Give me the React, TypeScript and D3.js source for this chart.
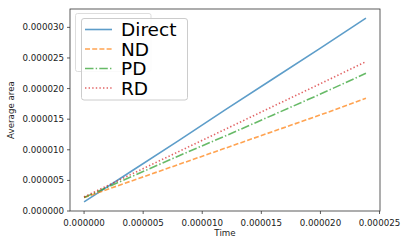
import React, { useRef, useEffect } from "react";
import * as d3 from "d3";

// time samples (s)
const times = [0, 4e-6, 8e-6, 12e-6, 16e-6, 20e-6, 23.85e-6];
// average area per method
const direct = [1.5e-6, 6.5e-6, 11.5e-6, 16.6e-6, 21.6e-6, 26.6e-6, 31.5e-6];
const nd = [2.2e-6, 4.9e-6, 7.6e-6, 10.3e-6, 13.0e-6, 15.7e-6, 18.4e-6];
const pd = [2.2e-6, 5.6e-6, 9.0e-6, 12.3e-6, 15.7e-6, 19.1e-6, 22.5e-6];
const rd = [2.3e-6, 6.0e-6, 9.7e-6, 13.4e-6, 17.1e-6, 20.8e-6, 24.4e-6];

const xTicks = [0, 5e-6, 10e-6, 15e-6, 20e-6, 25e-6];
const yTicks = [0, 5e-6, 10e-6, 15e-6, 20e-6, 25e-6, 30e-6];

const series = [
  { name: "Direct", values: direct, color: "#1f77b4", dash: null },
  { name: "ND", values: nd, color: "#ff7f0e", dash: "5,2.2" },
  { name: "PD", values: pd, color: "#2ca02c", dash: "8.5,2.2,1.4,2.2" },
  { name: "RD", values: rd, color: "#d62728", dash: "1.4,2.2" },
];

const App = () => {
  const svgRef = useRef<SVGSVGElement>(null);

  useEffect(() => {
    const width = 407;
    const height = 246;
    const left = 70, right = 380, top = 9, bottom = 211;
    const font = "DejaVu Sans, sans-serif";

    const svg = d3.select(svgRef.current);
    svg.selectAll("*").remove();
    svg.attr("width", width).attr("height", height);

    const x = d3.scaleLinear().domain([-1.19e-6, 25.04e-6]).range([left, right]);
    const y = d3.scaleLinear().domain([0, 33e-6]).range([bottom, top]);
    const fmt = d3.format(".6f");

    svg.append("rect").attr("width", width).attr("height", height).attr("fill", "#fff");

    // lines
    const line = d3
      .line<number>()
      .x((d, i) => x(times[i]))
      .y((d) => y(d));

    series.forEach((s) => {
      svg
        .append("path")
        .attr("d", line(s.values))
        .attr("fill", "none")
        .attr("stroke", s.color)
        .attr("stroke-opacity", 0.72)
        .attr("stroke-width", 1.6)
        .attr("stroke-dasharray", s.dash);
    });

    // spines
    svg
      .append("rect")
      .attr("x", left)
      .attr("y", top)
      .attr("width", right - left)
      .attr("height", bottom - top)
      .attr("fill", "none")
      .attr("stroke", "#333")
      .attr("stroke-width", 0.8);

    // x axis ticks
    const xg = svg.append("g");
    xTicks.forEach((t) => {
      xg.append("line")
        .attr("x1", x(t)).attr("x2", x(t))
        .attr("y1", bottom).attr("y2", bottom + 3)
        .attr("stroke", "#333").attr("stroke-width", 0.8);
      xg.append("text")
        .attr("x", x(t)).attr("y", 226)
        .attr("text-anchor", "middle")
        .attr("font-family", font).attr("font-size", 8.7)
        .attr("fill", "#222")
        .text(fmt(t));
    });

    // y axis ticks
    const yg = svg.append("g");
    yTicks.forEach((t) => {
      yg.append("line")
        .attr("x1", left - 3).attr("x2", left)
        .attr("y1", y(t)).attr("y2", y(t))
        .attr("stroke", "#333").attr("stroke-width", 0.8);
      yg.append("text")
        .attr("x", left - 6).attr("y", y(t))
        .attr("dy", "0.35em")
        .attr("text-anchor", "end")
        .attr("font-family", font).attr("font-size", 8.7)
        .attr("fill", "#222")
        .text(fmt(t));
    });

    // axis labels
    svg.append("text")
      .attr("x", (left + right) / 2).attr("y", 236)
      .attr("text-anchor", "middle")
      .attr("font-family", font).attr("font-size", 8.7)
      .attr("fill", "#222")
      .text("Time");

    svg.append("text")
      .attr("transform", `translate(14,${(top + bottom) / 2}) rotate(-90)`)
      .attr("text-anchor", "middle")
      .attr("font-family", font).attr("font-size", 8.7)
      .attr("fill", "#222")
      .text("Average area");

    // faint legend box left behind
    svg.append("rect")
      .attr("x", 75.5).attr("y", 13.5)
      .attr("width", 75.5).attr("height", 58)
      .attr("rx", 2)
      .attr("fill", "#fff")
      .attr("stroke", "#ddd").attr("stroke-width", 1);

    // legend
    const lg = svg.append("g");
    lg.append("rect")
      .attr("x", 81.5).attr("y", 18.5)
      .attr("width", 106).attr("height", 81.5)
      .attr("rx", 2.5)
      .attr("fill", "#fff").attr("fill-opacity", 0.85)
      .attr("stroke", "#ccc").attr("stroke-width", 1);

    series.forEach((s, i) => {
      const ly = 29.5 + i * 19.5;
      lg.append("line")
        .attr("x1", 85).attr("x2", 112)
        .attr("y1", ly).attr("y2", ly)
        .attr("stroke", s.color)
        .attr("stroke-opacity", 0.72)
        .attr("stroke-width", 1.6)
        .attr("stroke-dasharray", s.dash);
      lg.append("text")
        .attr("x", 121).attr("y", ly + 6.7)
        .attr("font-family", font).attr("font-size", 18.5)
        .attr("fill", "#000")
        .text(s.name);
    });
  }, []);

  return (
    <svg
      ref={svgRef}
      style={{ position: "absolute", left: 0, top: 0, display: "block" }}
    ></svg>
  );
};

export default App;
